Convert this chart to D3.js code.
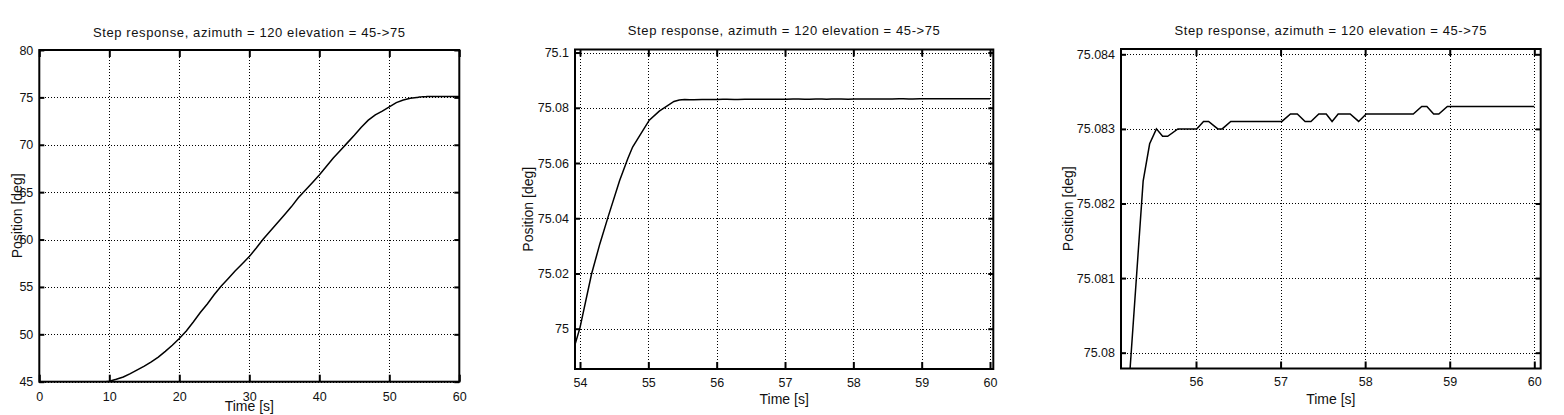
<!DOCTYPE html>
<html>
<head>
<meta charset="utf-8">
<title>Step response</title>
<script src="https://d3js.org/d3.v7.min.js"></script>
<style>
  body { margin: 0; background: #fff; }
  text { font-family: "Liberation Sans", Arial, sans-serif; fill: #111; }
</style>
</head>
<body>
<script>
// step response samples (time [s], elevation [deg])
const timeS = [0, 9.5, 10, 11, 12, 13, 14, 15, 16, 17, 18, 19, 20, 21, 22, 23, 24, 25, 26, 27, 28, 29,
  30, 31, 32, 33, 34, 35, 36, 37, 38, 39, 40, 41, 42, 43, 44, 45, 46, 47, 48, 49, 50, 51, 52, 53,
  53.913, 54.0, 54.169, 54.29, 54.41, 54.58, 54.70, 54.77, 54.894, 55.014, 55.16,
  55.375, 55.452, 55.532, 55.605, 55.665, 55.786, 56.008, 56.089, 56.149, 56.258, 56.31, 56.411,
  57.016, 57.117, 57.198, 57.29, 57.359, 57.452, 57.54, 57.609, 57.681, 57.823, 57.923, 58.012,
  58.569, 58.669, 58.73, 58.81, 58.871, 58.972, 60.0];
const positionDeg = [45, 45, 45.05, 45.25, 45.5, 45.85, 46.25, 46.65, 47.1, 47.6, 48.2, 48.85, 49.55,
  50.35, 51.3, 52.3, 53.2, 54.2, 55.1, 55.9, 56.7, 57.45, 58.2, 59.1, 60.05, 60.9, 61.75, 62.6,
  63.45, 64.4, 65.2, 66.0, 66.8, 67.7, 68.6, 69.4, 70.2, 71.0, 71.85, 72.6, 73.15, 73.55, 74.0,
  74.45, 74.72, 74.9,
  74.9931, 75.0004, 75.0198, 75.0307, 75.0404, 75.0537, 75.0616, 75.0658, 75.0707, 75.0755, 75.0788,
  75.0823, 75.0828, 75.0830, 75.0829, 75.0829, 75.0830, 75.0830, 75.0831, 75.0831, 75.0830, 75.0830, 75.0831,
  75.0831, 75.0832, 75.0832, 75.0831, 75.0831, 75.0832, 75.0832, 75.0831, 75.0832, 75.0832, 75.0831, 75.0832,
  75.0832, 75.0833, 75.0833, 75.0832, 75.0832, 75.0833, 75.0833];

const titleText = "Step response, azimuth = 120 elevation = 45->75";
const xLabelText = "Time [s]";
const yLabelText = "Position [deg]";

// tick values of the three views
const xTicksFull = [0, 10, 20, 30, 40, 50, 60];
const yTicksFull = [45, 50, 55, 60, 65, 70, 75, 80];
const xTicksZoom = [54, 55, 56, 57, 58, 59, 60];
const yTicksZoom = [75, 75.02, 75.04, 75.06, 75.08, 75.1];
const xTicksFine = [56, 57, 58, 59, 60];
const yTicksFine = [75.08, 75.081, 75.082, 75.083, 75.084];

const width = 1564;
const height = 415;

const svg = d3.select("body").append("svg")
    .attr("width", width)
    .attr("height", height);

svg.append("rect").attr("width", width).attr("height", height).attr("fill", "#fff");

const samples = timeS.map((t, i) => ({ t: t, v: positionDeg[i] }));

// each panel: the same signal, different window
const panels = [
    { left: 39.3, right: 459.3, top: 50, bottom: 381.7, xDomain: [0, 60], yDomain: [45, 80],
      xTicks: xTicksFull, yTicks: yTicksFull, titleY: 36.5, xLabelY: 411, yLabelX: 21.5, xPad: 10 },
    { left: 575, right: 993.3, top: 49.5, bottom: 369, xDomain: [53.9268, 60.048], yDomain: [74.98541, 75.1011],
      xTicks: xTicksZoom, yTicks: yTicksZoom, titleY: 35, xLabelY: 403.5, yLabelX: 533, xPad: 9 },
    { left: 1121, right: 1540.7, top: 49, bottom: 368.5, xDomain: [55.1132, 60.0757], yDomain: [75.079788, 75.084071],
      xTicks: xTicksFine, yTicks: yTicksFine, titleY: 35, xLabelY: 403.5, yLabelX: 1073, xPad: 9 }
];

panels.forEach((p, idx) => {
    const g = svg.append("g");
    const w = p.right - p.left;
    const h = p.bottom - p.top;

    const x = d3.scaleLinear().domain(p.xDomain).range([p.left, p.right]);
    const y = d3.scaleLinear().domain(p.yDomain).range([p.bottom, p.top]);

    // dotted grid
    g.append("g")
        .attr("transform", `translate(0,${p.bottom})`)
        .call(d3.axisBottom(x).tickValues(p.xTicks).tickSize(-h).tickFormat(""));
    g.append("g")
        .attr("transform", `translate(${p.left},0)`)
        .call(d3.axisLeft(y).tickValues(p.yTicks).tickSize(-w).tickFormat(""));
    g.selectAll("path.domain").remove();
    g.selectAll(".tick line")
        .attr("stroke", "#000")
        .attr("stroke-width", 1)
        .attr("shape-rendering", "crispEdges")
        .attr("stroke-dasharray", "1,2");

    // curve, clipped to the axes box
    const clipId = "clip" + idx;
    svg.append("clipPath").attr("id", clipId)
        .append("rect")
        .attr("x", p.left).attr("y", p.top)
        .attr("width", w).attr("height", h);

    const line = d3.line().x(d => x(d.t)).y(d => y(d.v));
    g.append("path")
        .datum(samples)
        .attr("clip-path", `url(#${clipId})`)
        .attr("fill", "none")
        .attr("stroke", "#000")
        .attr("stroke-width", 1.5)
        .attr("d", line);

    // ticks on all four sides, pointing inward
    const bottomAxis = g.append("g")
        .attr("transform", `translate(0,${p.bottom})`)
        .call(d3.axisBottom(x).tickValues(p.xTicks).tickSizeInner(-7).tickSizeOuter(0)
            .tickPadding(p.xPad).tickFormat(d => String(d)));
    const topAxis = g.append("g")
        .attr("transform", `translate(0,${p.top})`)
        .call(d3.axisTop(x).tickValues(p.xTicks).tickSizeInner(-7).tickSizeOuter(0).tickFormat(""));
    const leftAxis = g.append("g")
        .attr("transform", `translate(${p.left},0)`)
        .call(d3.axisLeft(y).tickValues(p.yTicks).tickSizeInner(-5).tickSizeOuter(0)
            .tickPadding(6).tickFormat(d => String(d)));
    const rightAxis = g.append("g")
        .attr("transform", `translate(${p.right},0)`)
        .call(d3.axisRight(y).tickValues(p.yTicks).tickSizeInner(-5).tickSizeOuter(0).tickFormat(""));

    [bottomAxis, topAxis, leftAxis, rightAxis].forEach(a => {
        a.select("path.domain").remove();
        a.selectAll(".tick line").attr("stroke", "#000").attr("stroke-width", 2);
        a.selectAll(".tick text")
            .attr("font-family", "Liberation Sans, Arial, sans-serif")
            .attr("font-size", 12.5)
            .attr("fill", "#111");
    });

    // axes box
    g.append("rect")
        .attr("x", p.left).attr("y", p.top)
        .attr("width", w).attr("height", h)
        .attr("fill", "none")
        .attr("stroke", "#000")
        .attr("stroke-width", 2);

    // title and axis labels
    g.append("text")
        .attr("x", (p.left + p.right) / 2)
        .attr("y", p.titleY)
        .attr("text-anchor", "middle")
        .attr("font-size", 13)
        .attr("letter-spacing", "0.6px")
        .text(titleText);

    g.append("text")
        .attr("x", (p.left + p.right) / 2)
        .attr("y", p.xLabelY)
        .attr("text-anchor", "middle")
        .attr("font-size", 14)
        .text(xLabelText);

    g.append("text")
        .attr("transform", `translate(${p.yLabelX},${(p.top + p.bottom) / 2}) rotate(-90)`)
        .attr("text-anchor", "middle")
        .attr("font-size", 14)
        .text(yLabelText);
});
</script>
</body>
</html>
